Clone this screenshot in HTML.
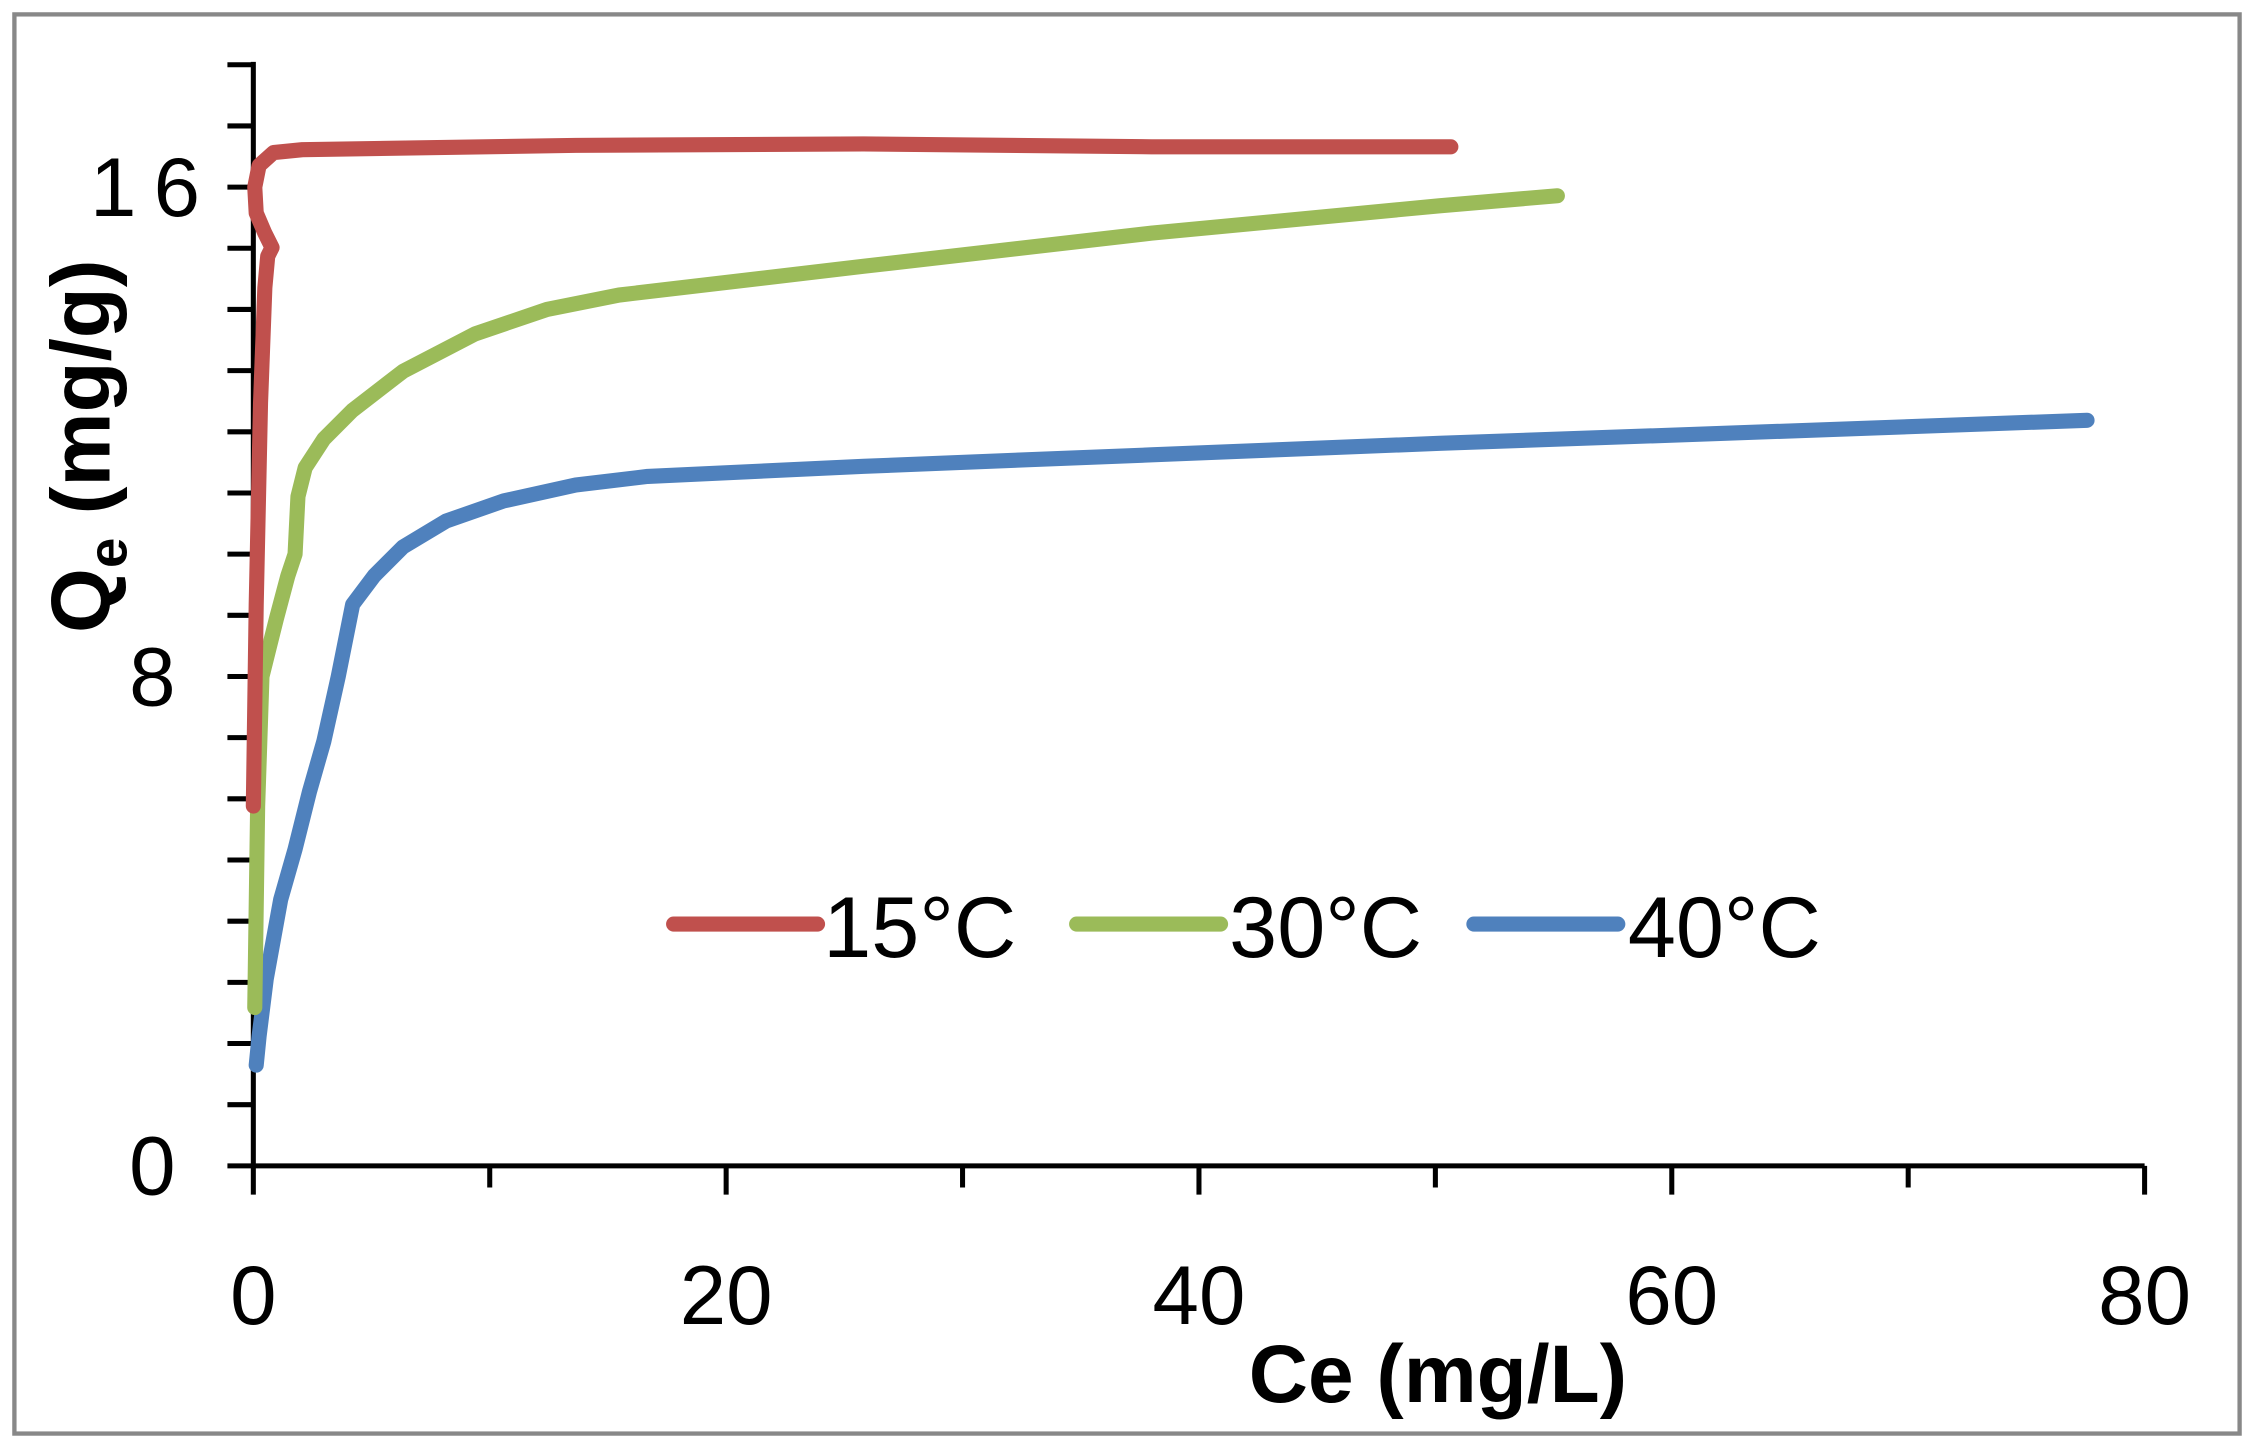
<!DOCTYPE html>
<html><head><meta charset="utf-8"><style>html,body{margin:0;padding:0;background:#fff}svg{display:block}</style></head>
<body>
<svg width="2254" height="1453" viewBox="0 0 1566 1009.5" xmlns="http://www.w3.org/2000/svg" font-family="Liberation Sans, Arial, sans-serif">
<rect x="0" y="0" width="1566" height="1009.5" fill="#fff"/>
<rect x="10" y="10" width="1546" height="986" fill="none" stroke="#888" stroke-width="3"/>
<g stroke="#000" stroke-width="3.5" fill="none">
<line x1="176" y1="43" x2="176" y2="830"/>
<line x1="158" y1="810" x2="1490" y2="810"/>
<path d="M158,45H176M158,87.5H176M158,130H176M158,172.5H176M158,215H176M158,257.5H176M158,300H176M158,342.5H176M158,385H176M158,427.5H176M158,470H176M158,512.5H176M158,555H176M158,597.5H176M158,640H176M158,682.5H176M158,725H176M158,767.5H176"/>
<path d="M504.5,810V830M833,810V830M1161.5,810V830M1490,810V830M340.25,810V825M668.75,810V825M997.25,810V825M1325.75,810V825"/>
</g>
<g font-size="58" fill="#000">
<text x="151" y="150" text-anchor="end" letter-spacing="12">16</text>
<text x="122" y="490" text-anchor="end">8</text>
<text x="122" y="830" text-anchor="end">0</text>
<text x="176" y="920" text-anchor="middle">0</text>
<text x="504.5" y="920" text-anchor="middle">20</text>
<text x="833" y="920" text-anchor="middle">40</text>
<text x="1161.5" y="920" text-anchor="middle">60</text>
<text x="1490" y="920" text-anchor="middle">80</text>
</g>
<text x="999" y="974" text-anchor="middle" font-size="57" font-weight="bold">Ce (mg/L)</text>
<text transform="translate(76,310) rotate(-90)" text-anchor="middle" font-size="58" font-weight="bold">Q<tspan font-size="38" dy="12">e</tspan><tspan dy="-12"> (mg/g)</tspan></text>
<g fill="none" stroke-width="10.5" stroke-linecap="round" stroke-linejoin="round">
<path stroke="#4F81BD" d="M178,740 L180,720 L185,680 L195,625 L205,590 L215,550 L225,515 L235,470 L245,420 L260,400 L280,380 L310,362 L350,348 L400,337 L450,331 L600,324 L800,316 L1000,308 L1200,301 L1450,292"/>
<path stroke="#9BBB59" d="M177,700 L179,560 L182,470 L187,450 L192,430 L200,400 L205,385 L207,345 L212,325 L225,305 L245,285 L280,258 L330,232 L380,215 L430,205 L600,185 L800,162 L1000,143 L1082,136"/>
<path stroke="#C0504D" d="M176,560 L178,420 L181,280 L184,200 L186,178 L189,172 L184,162 L178,148 L177,130 L180,115 L190,106 L210,104 L400,101 L600,100 L800,102 L1008,102"/>
<line stroke="#C0504D" x1="468" y1="642" x2="568" y2="642"/>
<line stroke="#9BBB59" x1="748" y1="642" x2="848" y2="642"/>
<line stroke="#4F81BD" x1="1024" y1="642" x2="1124" y2="642"/>
</g>
<g font-size="60" fill="#000">
<text x="572" y="665">15°C</text>
<text x="854" y="665">30°C</text>
<text x="1131" y="665">40°C</text>
</g>
</svg>
</body></html>
